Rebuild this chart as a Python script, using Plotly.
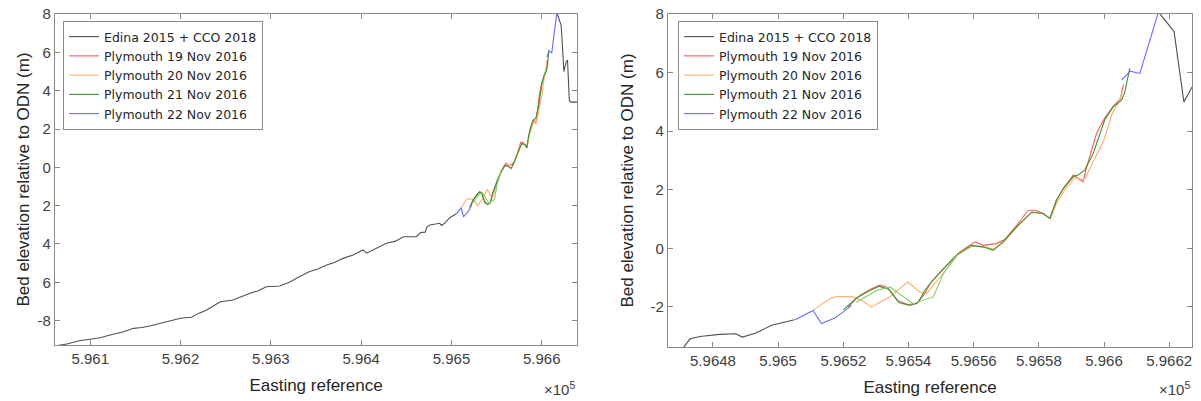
import plotly.graph_objects as go

# Bed elevation profiles (easting in m, elevation in m relative to ODN)
edina_x = [596061, 596074, 596088, 596100, 596111, 596122, 596135, 596148, 596157, 596166,
           596176, 596185, 596200, 596212, 596220, 596229, 596244, 596258, 596268, 596277,
           596286, 596295, 596310, 596321, 596332, 596343, 596352, 596362, 596371, 596380,
           596391, 596402, 596406, 596417, 596428, 596438, 596447, 596461, 596466, 596471,
           596473, 596476, 596482, 596487, 596489, 596493, 596498, 596505,
           None,
           596617, 596621.5, 596624.5, 596627, 596628.5, 596630.5, 596632, 596640]
edina_y = [-9.32, -9.22, -9.05, -8.97, -8.89, -8.75, -8.60, -8.40, -8.36, -8.28,
           -8.16, -8.05, -7.87, -7.82, -7.62, -7.44, -7.01, -6.92, -6.72, -6.57,
           -6.44, -6.23, -6.19, -5.98, -5.70, -5.44, -5.30, -5.09, -4.95, -4.75,
           -4.58, -4.31, -4.48, -4.20, -3.96, -3.85, -3.62, -3.62, -3.40, -3.38,
           -3.09, -3.01, -2.94, -2.92, -3.03, -2.90, -2.63, -2.44,
           None,
           8.03, 7.40, 5.00, 5.50, 5.60, 3.50, 3.40, 3.40]

p19_x = [596521.4, 596525.1, 596528.2, 596531.2, 596533.3, 596536.7, 596539.8, 596542.5,
         596545, 596546.6, 596550.7, 596555.2, 596558, 596560.4, 596563, 596567, 596569.5,
         596573.2, 596576.7, 596579, 596581.3, 596583.4, 596585.4, 596587.5, 596590.6,
         596593.6, 596594.5, 596597.7, 596600.2, 596602.8, 596605, 596606]
p19_y = [-2.01, -1.61, -1.41, -1.26, -1.32, -1.78, -1.92, -1.89,
         -1.55, -1.21, -0.70, -0.18, 0.05, 0.22, 0.10, 0.16, 0.30,
         0.78, 1.30, 1.30, 1.19, 1.02, 1.64, 2.04, 2.50,
         2.27, 2.70, 3.92, 4.45, 4.85, 5.10, 5.60]

p20_x = [596510.7, 596515.9, 596518.3, 596523, 596525.7, 596528.7, 596531.2, 596534.3,
         596539.7, 596543.5, 596545.6, 596548, 596551, 596555, 596559.5, 596563, 596566,
         596569, 596573, 596577.8, 596581.3, 596583.5, 596585.5, 596588, 596591, 596594,
         596597, 596600, 596602.5, 596604.5, 596605.8]
p20_y = [-2.12, -1.72, -1.64, -1.66, -1.78, -2.01, -1.84, -1.66,
         -1.15, -1.49, -1.55, -1.20, -0.80, -0.25, 0.07, 0.05, -0.02,
         0.18, 0.70, 1.22, 1.18, 1.00, 1.55, 2.00, 2.40, 2.35,
         3.00, 3.70, 4.60, 5.00, 5.40]

p21_x = [596520, 596524, 596528, 596531, 596534, 596537, 596540.4, 596543, 596545, 596547,
         596550.7, 596555.2, 596559.4, 596562.9, 596566, 596569, 596573.2, 596577.8,
         596581.3, 596583.4, 596585.4, 596587.5, 596590.6, 596592, 596594.1, 596596.7,
         596600.2, 596602.8, 596605.4, 596606.4, 596607.9]
p21_y = [-2.10, -1.70, -1.45, -1.30, -1.40, -1.85, -1.95, -1.85, -1.44, -1.15,
         -0.70, -0.18, 0.10, 0.05, -0.07, 0.22, 0.73, 1.24,
         1.19, 1.02, 1.64, 2.04, 2.45, 2.50, 2.67, 3.24,
         4.38, 4.83, 5.06, 5.34, 6.14]

# second 21 Nov line across the lower bar
p21b_x = [596524, 596530.2, 596534.3, 596541.4, 596547.6, 596550.7, 596555]
p21b_y = [-1.84, -1.44, -1.32, -1.89, -1.66, -0.87, -0.20]

p22_x = [596505.2, 596510.7, 596513.3, 596517.4, 596519.9, 596522.5,
         None,
         596605.5, 596608, 596611, 596616.6]
p22_y = [-2.44, -2.12, -2.57, -2.38, -2.18, -1.95,
         None,
         5.75, 6.05, 5.97, 8.03]

left_xticks = [596100, 596200, 596300, 596400, 596500, 596600]
left_xtext = ["5.961", "5.962", "5.963", "5.964", "5.965", "5.966"]
left_yticks = [-8, -6, -4, -2, 0, 2, 4, 6, 8]
left_ytext = ["-8", "6", "4", "2", "0", "2", "4", "6", "8"]

right_xticks = [596480, 596500, 596520, 596540, 596560, 596580, 596600, 596620]
right_xtext = ["5.9648", "5.965", "5.9652", "5.9654", "5.9656", "5.9658", "5.966", "5.9662"]
right_yticks = [-2, 0, 2, 4, 6, 8]
right_ytext = ["-2", "0", "2", "4", "6", "8"]

series = [
    ("Edina 2015 + CCO 2018", edina_x, edina_y, "rgb(80,80,80)", True),
    ("Plymouth 19 Nov 2016", p19_x, p19_y, "rgb(255,90,90)", True),
    ("Plymouth 20 Nov 2016", p20_x, p20_y, "rgb(255,175,110)", True),
    ("Plymouth 21 Nov 2016", p21_x, p21_y, "rgb(50,150,50)", True),
    ("Plymouth 21 Nov 2016 (b)", p21b_x, p21b_y, "rgb(130,205,110)", False),
    ("Plymouth 22 Nov 2016", p22_x, p22_y, "rgb(105,105,255)", True),
]

fig = go.Figure()
for xa, ya, lg in [("x", "y", "legend"), ("x2", "y2", "legend2")]:
    for name, xs, ys, col, show in series:
        fig.add_trace(go.Scatter(
            x=xs, y=ys, mode="lines", name=name,
            line=dict(color=col, width=1.1),
            xaxis=xa, yaxis=ya, legend=lg, showlegend=show,
            connectgaps=False,
        ))

font_family = "Liberation Sans, Arial, sans-serif"
axis_common = dict(
    showline=True, linecolor="#8a8a8a", linewidth=1.2, mirror="ticks",
    ticks="inside", ticklen=5, tickcolor="#8a8a8a", tickwidth=1,
    showgrid=False, zeroline=False, automargin=False,
    tickfont=dict(family=font_family, size=15, color="#404040"),
)
title_font = dict(family=font_family, size=17, color="#262626")

legend_common = dict(
    bgcolor="white", bordercolor="#8a8a8a", borderwidth=1,
    font=dict(family="DejaVu Sans, sans-serif", size=12.5, color="#262626"),
    xanchor="left", yanchor="top", tracegroupgap=0,
)

fig.update_layout(
    width=1201, height=401,
    margin=dict(l=0, r=0, t=0, b=0, autoexpand=False),
    paper_bgcolor="white", plot_bgcolor="white",
    xaxis=dict(domain=[55 / 1201, 577 / 1201], range=[596061, 596639],
               tickvals=left_xticks, ticktext=left_xtext,
               title=dict(text="Easting reference", font=title_font, standoff=13),
               anchor="y", **axis_common),
    yaxis=dict(domain=[1 - 345 / 401, 1 - 14 / 401], range=[-9.27, 8],
               tickvals=left_yticks, ticktext=left_ytext,
               title=dict(text="Bed elevation relative to ODN (m)", font=title_font, standoff=3),
               anchor="x", **axis_common),
    xaxis2=dict(domain=[668 / 1201, 1192 / 1201], range=[596466.2, 596627],
                tickvals=right_xticks, ticktext=right_xtext,
                title=dict(text="Easting reference", font=title_font, standoff=13),
                anchor="y2", **axis_common),
    yaxis2=dict(domain=[1 - 347 / 401, 1 - 14 / 401], range=[-3.37, 8],
                tickvals=right_yticks, ticktext=right_ytext,
                title=dict(text="Bed elevation relative to ODN (m)", font=title_font, standoff=12),
                anchor="x2", **axis_common),
    legend=dict(x=63 / 1201, y=1 - 21 / 401, **legend_common),
    legend2=dict(x=678 / 1201, y=1 - 21 / 401, **legend_common),
    annotations=[
        dict(text="×10<sup>5</sup>", xref="paper", yref="paper",
             x=577 / 1201, y=1 - 388 / 401, xanchor="right", yanchor="middle",
             showarrow=False, font=dict(family=font_family, size=15, color="#404040")),
        dict(text="×10<sup>5</sup>", xref="paper", yref="paper",
             x=1192 / 1201, y=1 - 388 / 401, xanchor="right", yanchor="middle",
             showarrow=False, font=dict(family=font_family, size=15, color="#404040")),
    ],
)

fig.write_html("out.html")
